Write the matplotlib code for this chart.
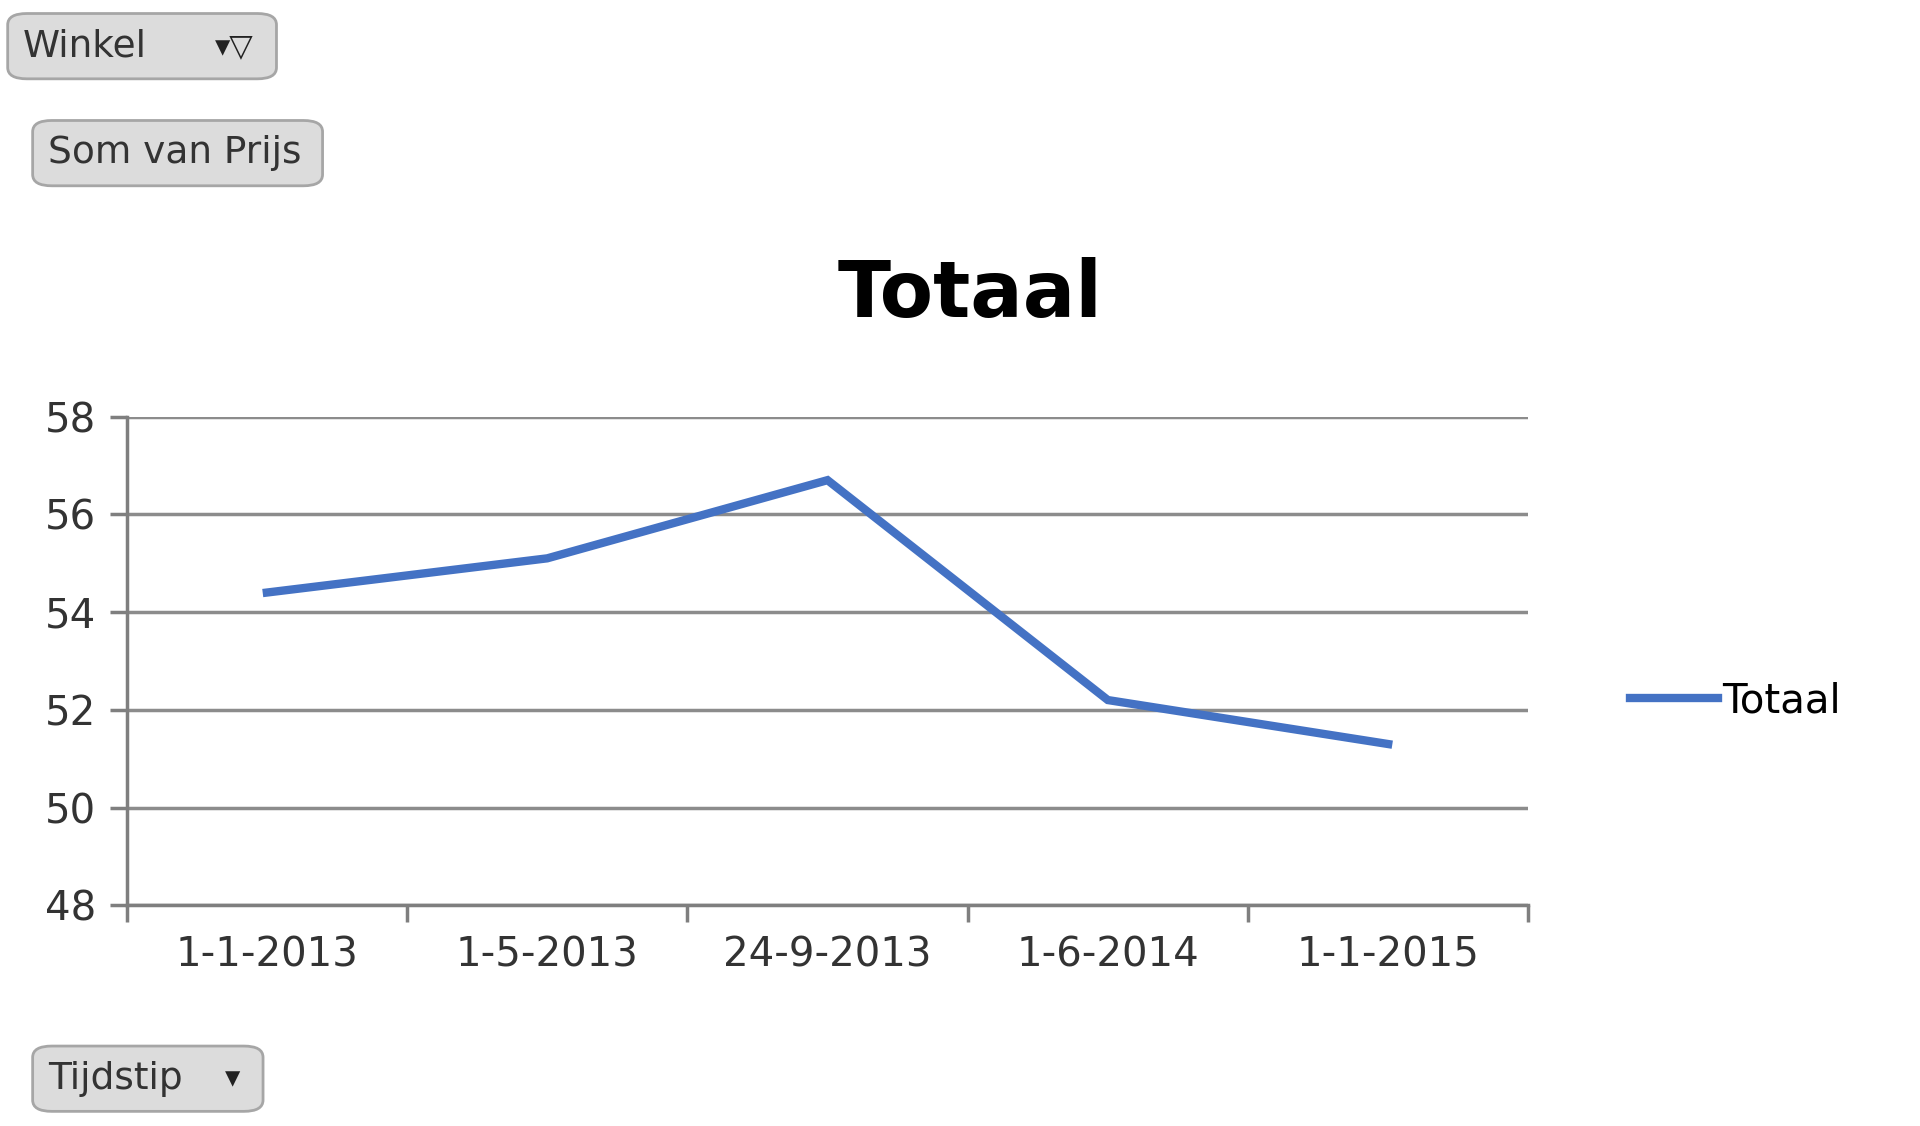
import matplotlib
matplotlib.use("Agg")
import matplotlib.pyplot as plt
from matplotlib.patches import FancyBboxPatch

dates = ["1-1-2013", "1-5-2013", "24-9-2013", "1-6-2014", "1-1-2015"]
values = [54.4, 55.1, 56.7, 52.2, 51.3]
yticks = [48, 50, 52, 54, 56, 58]

plt.rcParams['font.family'] = ['DejaVu Sans']
fig = plt.figure(figsize=(19.2, 11.26), dpi=100)
ax = fig.add_axes([0.066, 0.196, 0.730, 0.434])
x = list(range(len(dates)))
ax.plot(x, values, color="#4472C4", lw=6, solid_joinstyle="miter", label="Totaal")
ax.set_xlim(-0.5, len(dates) - 0.5)
ax.set_ylim(48, 58)
ax.set_yticks(yticks)
ax.set_xticks(x)
ax.set_xticklabels(dates)
ax.set_xticks([i - 0.5 for i in range(len(dates) + 1)], minor=True)
ax.tick_params(axis="x", which="major", length=0, pad=22, labelsize=29, labelcolor="#333333")
ax.tick_params(axis="x", which="minor", length=12, width=2.5, color="#7f7f7f")
ax.tick_params(axis="y", length=12, width=2.5, color="#7f7f7f", labelsize=29, pad=10, labelcolor="#333333")
ax.grid(axis="y", color="#8c8c8c", lw=2.5)
for s in ["top", "right"]:
    ax.spines[s].set_visible(False)
for s in ["left", "bottom"]:
    ax.spines[s].set_color("#7f7f7f")
    ax.spines[s].set_linewidth(2.5)
ax.set_axisbelow(True)
fig.text(0.505, 0.738, "Totaal", ha="center", va="center", fontsize=56, fontweight="bold")
fig.legend(loc="center left", bbox_to_anchor=(0.83, 0.377), frameon=False, fontsize=29,
           handlelength=2.2, handletextpad=0.1)

def button(x0, y0, w, h, label, arrow=None):
    p = FancyBboxPatch((x0, y0), w, h, boxstyle="round,pad=0,rounding_size=0.01",
                       transform=fig.transFigure, facecolor="#dcdcdc", edgecolor="#a6a6a6", lw=2)
    fig.add_artist(p)
    fig.text(x0 + 0.008, y0 + h / 2, label, ha="left", va="center", fontsize=27, color="#333333")
    if arrow:
        fig.text(x0 + w - 0.012, y0 + h / 2, arrow, ha="right", va="center", fontsize=22, color="#222222")

button(0.004, 0.93, 0.14, 0.058, "Winkel", "▾▽")
button(0.017, 0.835, 0.151, 0.058, "Som van Prijs")
button(0.017, 0.013, 0.12, 0.058, "Tijdstip", "▾")
fig.savefig("out.png")
